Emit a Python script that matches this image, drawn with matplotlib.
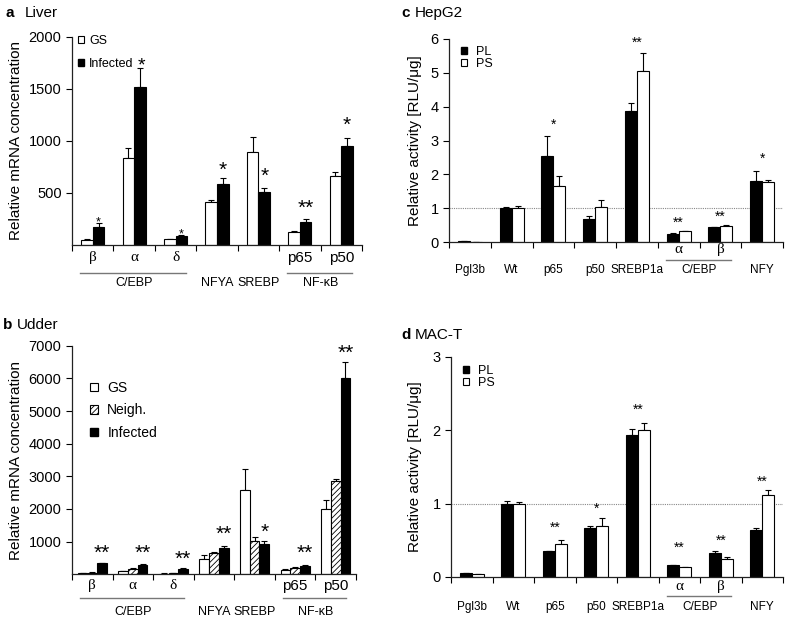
import numpy as np
import matplotlib
matplotlib.use("Agg")
import matplotlib.pyplot as plt
from matplotlib.patches import Patch

plt.rcParams['font.family'] = ['Liberation Sans', 'DejaVu Sans']
plt.rcParams['hatch.linewidth'] = 0.6

# a: Liver (GS vs Infected)
liver_sub = ['β', 'α', 'δ', '', '', 'p65', 'p50']
liver_fam = [('C/EBP', 0, 2), ('NFYA', 3, 3), ('SREBP', 4, 4), ('NF-κB', 5, 6)]
liver_gs = [52, 835, 55, 413, 890, 122, 660]
liver_gs_err = [8, 100, 5, 22, 145, 8, 38]
liver_inf = [170, 1515, 82, 587, 513, 220, 950]
liver_inf_err = [38, 185, 10, 60, 38, 32, 80]
liver_stars = ['*', '*', '*', '*', '*', '**', '*']
liver_star_y = [256, 1785, 144, 778, 720, 416, 1216]

# b: Udder (GS, Neigh., Infected)
udder_sub = ['β', 'α', 'δ', '', '', 'p65', 'p50']
udder_fam = [('C/EBP', 0, 2), ('NFYA', 3, 3), ('SREBP', 4, 4), ('NF-κB', 5, 6)]
udder_gs = [40, 90, 20, 480, 2570, 133, 1990]
udder_gs_err = [5, 15, 5, 100, 640, 15, 290]
udder_neigh = [50, 170, 40, 643, 1020, 204, 2860]
udder_neigh_err = [8, 20, 8, 50, 115, 15, 70]
udder_inf = [335, 270, 170, 800, 920, 265, 6000]
udder_inf_err = [25, 40, 35, 70, 95, 20, 490]
udder_stars = ['**', '**', '**', '**', '*', '**', '**']
udder_star_y = [847, 847, 673, 1439, 1490, 847, 6969]

# c / d: promoter activity (PL vs PS)
prom_sub = ['', '', '', '', '', 'α', 'β', '']
prom_fam = [('Pgl3b', 0, 0), ('Wt', 1, 1), ('p65', 2, 2), ('p50', 3, 3),
            ('SREBP1a', 4, 4), ('C/EBP', 5, 6), ('NFY', 7, 7)]

hep_pl = [0.02, 1.0, 2.54, 0.69, 3.87, 0.25, 0.43, 1.79]
hep_pl_err = [0.0, 0.04, 0.6, 0.07, 0.23, 0.01, 0.02, 0.32]
hep_ps = [0.01, 1.0, 1.66, 1.02, 5.05, 0.32, 0.46, 1.76]
hep_ps_err = [0.0, 0.06, 0.28, 0.22, 0.55, 0.01, 0.03, 0.08]
hep_stars = ['', '', '*', '', '**', '**', '**', '*']
hep_star_y = [0, 0, 3.59, 0, 6.0, 0.69, 0.88, 2.58]

mac_pl = [0.05, 1.0, 0.35, 0.67, 1.94, 0.16, 0.33, 0.64]
mac_pl_err = [0.0, 0.03, 0.01, 0.02, 0.08, 0.0, 0.02, 0.03]
mac_ps = [0.045, 1.0, 0.45, 0.69, 2.0, 0.14, 0.25, 1.12]
mac_ps_err = [0.0, 0.02, 0.05, 0.11, 0.1, 0.0, 0.02, 0.06]
mac_stars = ['', '', '**', '*', '**', '**', '**', '**']
mac_star_y = [0, 0, 0.72, 0.98, 2.33, 0.46, 0.55, 1.36]

GREEK = set('αβδ')


def draw_bars(ax, series, errors, styles, width):
    n = len(series)
    x = np.arange(len(series[0]))
    centers = []
    for i, (vals, errs, (fc, hatch)) in enumerate(zip(series, errors, styles)):
        xs = x + (i - (n - 1) / 2) * width
        centers.append(xs)
        ax.bar(xs, vals, width, color=fc, edgecolor='black', hatch=hatch,
               linewidth=0.8, zorder=2)
        ax.errorbar(xs, vals, yerr=[np.zeros(len(vals)), errs], fmt='none',
                    ecolor='black', elinewidth=0.8, capsize=2.5, capthick=0.8,
                    zorder=1)
    return centers


def draw_stars(ax, xs, stars, ys, fs):
    for x, s, y in zip(xs, stars, ys):
        if s:
            ax.annotate(s, (x, y), xytext=(0, -0.58 * fs), textcoords='offset points',
                        ha='center', va='baseline', fontsize=fs)


def setup_axis(ax, n, ylim, yticks):
    ax.set_xlim(-0.5, n - 0.5)
    ax.set_ylim(*ylim)
    ax.set_yticks(yticks)
    ax.set_xticks(np.arange(n + 1) - 0.5)
    ax.set_xticklabels([])
    ax.spines['top'].set_visible(False)
    ax.spines['right'].set_visible(False)
    for sp in ('left', 'bottom'):
        ax.spines[sp].set_linewidth(0.9)
        ax.spines[sp].set_color('#222222')
    ax.tick_params(direction='out', length=4, width=0.8, labelsize=10.5)


def group_labels(ax, sub, fams, y1, yb, y2, fs_sub, fs_fam):
    tr = ax.get_xaxis_transform()
    for i, s in enumerate(sub):
        if s:
            fam = 'Liberation Serif' if s in GREEK else 'Liberation Sans'
            ax.text(i, y1, s, transform=tr, ha='center', va='center',
                    fontsize=fs_sub, family=fam)
    for name, lo, hi in fams:
        ax.text((lo + hi) / 2, y2, name, transform=tr, ha='center', va='center',
                fontsize=fs_fam)
        if hi > lo:
            ax.plot([lo - 0.3, hi + 0.25], [yb, yb], transform=tr, color='#777777',
                    lw=1.0, clip_on=False)


W, H = 785, 619
fig = plt.figure(figsize=(W / 100, H / 100), dpi=100)


def add_ax(left, right, top, bottom):
    return fig.add_axes([left / W, (H - bottom) / H, (right - left) / W, (bottom - top) / H])


white = ('white', None)
black = ('black', None)
hatched = ('white', '//////')

# panel a
ax = add_ax(72, 362, 37, 245)
setup_axis(ax, 7, (0, 2000), [500, 1000, 1500, 2000])
c = draw_bars(ax, [liver_gs, liver_inf], [liver_gs_err, liver_inf_err], [white, black], 0.28)
draw_stars(ax, c[1][[0, 2]], [liver_stars[0], liver_stars[2]], [liver_star_y[0], liver_star_y[2]], 9)
draw_stars(ax, c[1][[1]] + 0.04, [liver_stars[1]], [liver_star_y[1]], 14)
draw_stars(ax, c[1][[3, 4, 5, 6]], [liver_stars[i] for i in (3, 4, 5, 6)],
           [liver_star_y[i] for i in (3, 4, 5, 6)], 15)
group_labels(ax, liver_sub, liver_fam, -0.062, -0.135, -0.183, 11, 9)
ax.set_ylabel('Relative mRNA concentration', fontsize=11)
ax.yaxis.set_label_coords(-0.169, 0.5)
ax.legend([Patch(facecolor='white', edgecolor='black', lw=0.8), Patch(facecolor='black', edgecolor='black')],
          ['GS', 'Infected'], loc='upper left', bbox_to_anchor=(0.02, 1.01), frameon=False,
          fontsize=9, handlelength=0.5, handleheight=0.5, handletextpad=0.4,
          labelspacing=0.85, borderpad=0, borderaxespad=0)
fig.text(6 / W, 1 - 13 / H, 'a', fontsize=11, weight='bold', va='center')
fig.text(25 / W, 1 - 13 / H, 'Liver', fontsize=11, va='center')

# panel b
ax = add_ax(72, 356, 345.7, 574.3)
setup_axis(ax, 7, (0, 7000), [1000, 2000, 3000, 4000, 5000, 6000, 7000])
c = draw_bars(ax, [udder_gs, udder_neigh, udder_inf],
              [udder_gs_err, udder_neigh_err, udder_inf_err], [white, hatched, black], 0.24)
draw_stars(ax, c[2], udder_stars, udder_star_y, 15)
group_labels(ax, udder_sub, udder_fam, -0.051, -0.104, -0.165, 11, 9)
ax.set_ylabel('Relative mRNA concentration', fontsize=11)
ax.yaxis.set_label_coords(-0.173, 0.5)
ax.legend([Patch(facecolor='white', edgecolor='black', lw=0.8),
           Patch(facecolor='white', edgecolor='black', hatch='//////', lw=0.8),
           Patch(facecolor='black', edgecolor='black')],
          ['GS', 'Neigh.', 'Infected'], loc='upper left', bbox_to_anchor=(0.063, 0.845),
          frameon=False, fontsize=10, handlelength=0.55, handleheight=0.55,
          handletextpad=0.7, labelspacing=0.6, borderpad=0, borderaxespad=0)
fig.text(3 / W, 1 - 325 / H, 'b', fontsize=11, weight='bold', va='center')
fig.text(17 / W, 1 - 325 / H, 'Udder', fontsize=11, va='center')


def promoter_panel(ax, pl, pl_err, ps, ps_err, stars, star_y, ylim, yticks, lab_y):
    setup_axis(ax, 8, ylim, yticks)
    ax.axhline(1, color='#888888', lw=0.8, ls=(0, (1, 1)), zorder=0)
    draw_bars(ax, [pl, ps], [pl_err, ps_err], [black, white], 0.29)
    draw_stars(ax, np.arange(8), stars, star_y, 10)
    group_labels(ax, prom_sub, prom_fam, *lab_y, 11, 8.5)
    ax.set_ylabel('Relative activity [RLU/μg]', fontsize=11)
    ax.legend([Patch(facecolor='black', edgecolor='black'),
               Patch(facecolor='white', edgecolor='black', lw=0.8)],
              ['PL', 'PS'], loc='upper left', bbox_to_anchor=(0.035, 0.965),
              frameon=False, fontsize=9, handlelength=0.5, handleheight=0.5,
              handletextpad=0.7, labelspacing=0.0, borderpad=0, borderaxespad=0)


# panel c
ax = add_ax(449, 783, 39, 242)
promoter_panel(ax, hep_pl, hep_pl_err, hep_ps, hep_ps_err, hep_stars, hep_star_y,
               (0, 6), range(7), (-0.039, -0.089, -0.138))
ax.yaxis.set_label_coords(-0.081, 0.5)
fig.text(401 / W, 1 - 13 / H, 'c', fontsize=11, weight='bold', va='center')
fig.text(415 / W, 1 - 13 / H, 'HepG2', fontsize=11, va='center')

# panel d
ax = add_ax(451, 783, 357, 577)
promoter_panel(ax, mac_pl, mac_pl_err, mac_ps, mac_ps_err, mac_stars, mac_star_y,
               (0, 3), range(4), (-0.045, -0.086, -0.136))
ax.yaxis.set_label_coords(-0.087, 0.5)
fig.text(401 / W, 1 - 335 / H, 'd', fontsize=11, weight='bold', va='center')
fig.text(415 / W, 1 - 335 / H, 'MAC-T', fontsize=11, va='center')

fig.savefig('out.png', dpi=100)
